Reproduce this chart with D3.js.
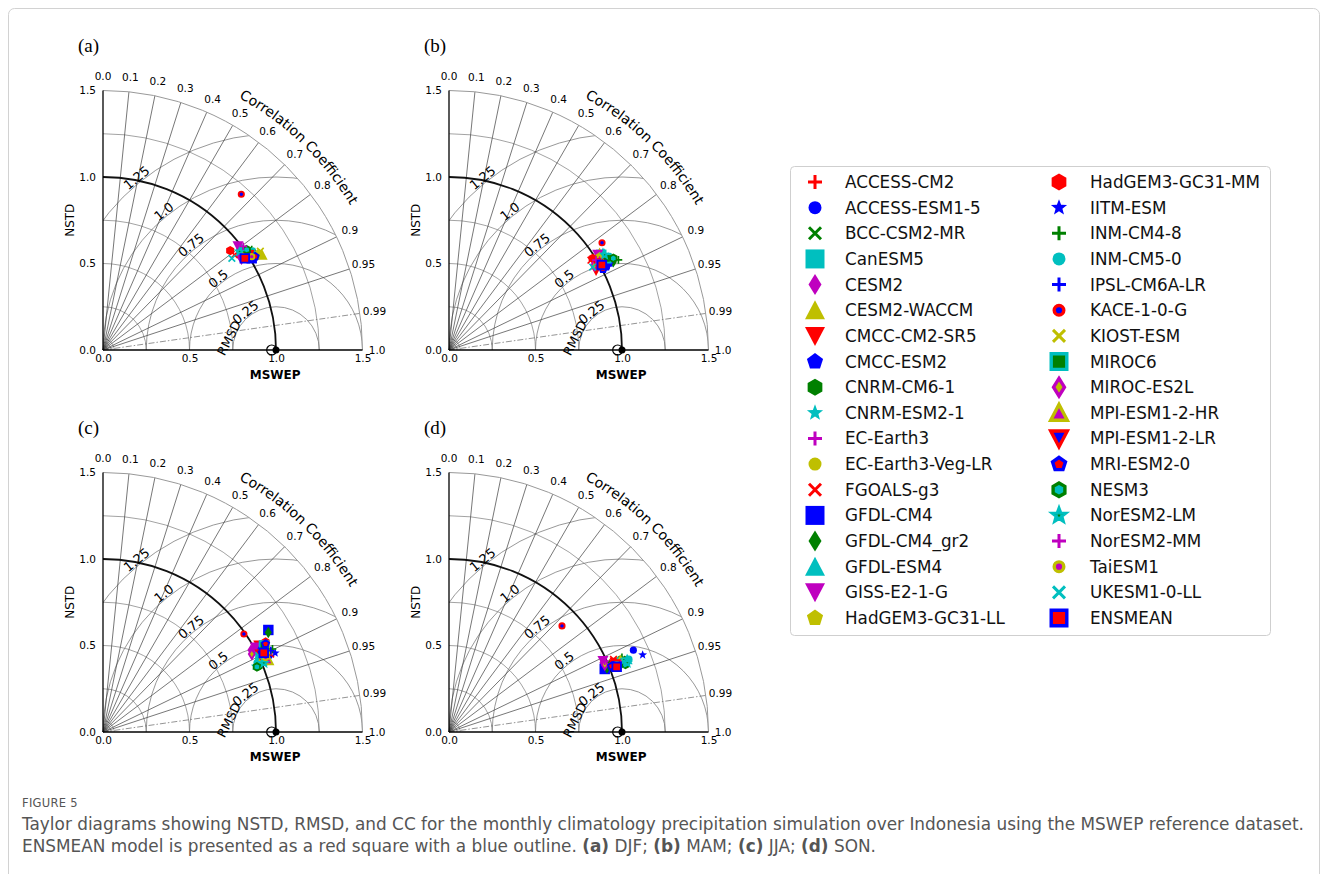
<!DOCTYPE html>
<html>
<head>
<meta charset="utf-8">
<script src="https://cdn.jsdelivr.net/npm/d3@7"></script>
<style>
  body { margin: 0; background: #fff; }
  svg text { font-family: "DejaVu Sans", sans-serif; }
</style>
</head>
<body>
<svg id="fig" width="1328" height="874"></svg>
<script>
// models, in legend order (last one is the ensemble mean)
const models = ["ACCESS-CM2","ACCESS-ESM1-5","BCC-CSM2-MR","CanESM5","CESM2","CESM2-WACCM",
  "CMCC-CM2-SR5","CMCC-ESM2","CNRM-CM6-1","CNRM-ESM2-1","EC-Earth3","EC-Earth3-Veg-LR",
  "FGOALS-g3","GFDL-CM4","GFDL-CM4_gr2","GFDL-ESM4","GISS-E2-1-G","HadGEM3-GC31-LL",
  "HadGEM3-GC31-MM","IITM-ESM","INM-CM4-8","INM-CM5-0","IPSL-CM6A-LR","KACE-1-0-G",
  "KIOST-ESM","MIROC6","MIROC-ES2L","MPI-ESM1-2-HR","MPI-ESM1-2-LR","MRI-ESM2-0",
  "NESM3","NorESM2-LM","NorESM2-MM","TaiESM1","UKESM1-0-LL","ENSMEAN"];

// normalised standard deviation and correlation, per season
const nstdDJF = [0.977,1.021,1.015,0.982,0.963,1.072,0.990,1.038,1.023,0.985,1.004,1.041,0.938,1.010,1.035,0.994,0.984,1.060,0.933,1.010,1.037,0.996,1.029,1.204,1.074,1.018,0.960,1.007,1.004,1.032,1.013,0.974,1.008,1.015,0.914,0.976];
const ccDJF   = [0.819,0.842,0.828,0.815,0.821,0.858,0.838,0.848,0.831,0.822,0.816,0.855,0.810,0.851,0.841,0.805,0.793,0.849,0.788,0.832,0.829,0.813,0.845,0.664,0.847,0.835,0.834,0.824,0.837,0.852,0.820,0.811,0.804,0.847,0.815,0.840];
const nstdMAM = [1.005,1.047,1.044,1.038,0.983,1.035,0.966,1.029,1.066,1.067,1.007,1.031,0.971,1.030,1.078,1.052,1.021,1.024,0.985,1.056,1.109,1.079,1.042,1.080,1.017,1.053,0.972,1.019,0.995,1.006,1.088,1.055,0.996,1.007,0.959,1.011];
const ccMAM   = [0.856,0.879,0.862,0.848,0.855,0.841,0.880,0.884,0.873,0.862,0.844,0.863,0.845,0.874,0.881,0.846,0.842,0.850,0.843,0.881,0.883,0.871,0.883,0.819,0.865,0.864,0.864,0.854,0.864,0.885,0.873,0.853,0.853,0.874,0.866,0.874];
const nstdJJA = [1.033,1.056,1.055,1.002,0.978,1.039,1.030,1.015,0.977,0.959,0.984,1.029,1.069,1.123,1.115,1.007,1.007,1.069,1.074,1.095,1.091,0.976,1.078,0.992,1.016,1.056,0.971,1.042,1.015,1.069,0.966,1.012,0.994,1.034,1.002,1.036];
const ccJJA   = [0.891,0.909,0.891,0.908,0.875,0.915,0.874,0.886,0.921,0.918,0.884,0.904,0.907,0.851,0.857,0.913,0.874,0.898,0.875,0.909,0.898,0.912,0.900,0.821,0.906,0.881,0.886,0.917,0.896,0.879,0.921,0.919,0.875,0.909,0.898,0.897];
const nstdSON = [1.058,1.166,1.085,1.068,0.976,1.053,1.040,1.023,1.008,1.099,0.990,1.064,1.039,0.971,0.985,1.112,0.980,1.086,1.027,1.205,1.089,1.122,1.010,0.896,1.051,1.077,0.981,1.072,1.036,1.014,1.092,1.105,0.989,1.045,1.090,1.040];
const ccSON   = [0.926,0.914,0.922,0.927,0.912,0.921,0.923,0.929,0.922,0.928,0.919,0.930,0.915,0.927,0.927,0.926,0.908,0.930,0.925,0.929,0.918,0.927,0.930,0.729,0.932,0.928,0.918,0.924,0.926,0.927,0.934,0.932,0.910,0.928,0.927,0.932];

// axis / grid values
const stdTicks = [0, 0.5, 1.0, 1.5];
const stdArcs = [0.25, 0.5, 0.75, 1.25];
const corLines = [0.1,0.2,0.3,0.4,0.5,0.6,0.7,0.8,0.9,0.95,0.99];
const corLabels = [0.0,0.1,0.2,0.3,0.4,0.5,0.6,0.7,0.8,0.9,0.95,0.99,1.0];
const rmsTicks = [0.25, 0.5, 0.75, 1.0, 1.25];

// marker styles (matplotlib-like)
const R_ = "#ff0000", B_ = "#0000ff", G_ = "#008000", C_ = "#00bfbf", M_ = "#bf00bf", Y_ = "#bfbf00";
const shapes = ["plus","circle","x","square","diamond","tri","vtri","pent","hex","star","plus","circle",
  "x","square","diamond","tri","vtri","pent","hex","star","plus","circle","plus","circle",
  "x","square","diamond","tri","vtri","pent","hex","star","plus","circle","x","square"];
const faces = [R_,B_,G_,C_,M_,Y_,R_,B_,G_,C_,M_,Y_,R_,B_,G_,C_,M_,Y_,R_,B_,G_,C_,B_,B_,
  Y_,G_,Y_,M_,B_,R_,C_,G_,M_,M_,C_,R_];
const edges = [R_,B_,G_,C_,M_,Y_,R_,B_,G_,C_,M_,Y_,R_,B_,G_,C_,M_,Y_,R_,B_,G_,C_,B_,R_,
  Y_,C_,M_,Y_,R_,B_,G_,C_,M_,Y_,C_,B_];
const halfSize = {plus:7, circle:6.5, x:6, square:9.5, diamond:10.5, tri:10, vtri:10, pent:8.5, hex:8.5, star:8.5};

function markerPath(shape, r) {
  const p = d3.path();
  const poly = pts => { pts.forEach((q, k) => k ? p.lineTo(q[0], q[1]) : p.moveTo(q[0], q[1])); p.closePath(); };
  const ngon = (n, rad, inner) => {
    const pts = [];
    const m = inner ? 2 * n : n;
    for (let k = 0; k < m; k++) {
      const a = -Math.PI / 2 + k * 2 * Math.PI / m;
      const rr = inner && k % 2 ? rad * inner : rad;
      pts.push([rr * Math.cos(a), rr * Math.sin(a)]);
    }
    return pts;
  };
  switch (shape) {
    case "plus": p.moveTo(-r, 0); p.lineTo(r, 0); p.moveTo(0, -r); p.lineTo(0, r); break;
    case "x": p.moveTo(-r, -r); p.lineTo(r, r); p.moveTo(-r, r); p.lineTo(r, -r); break;
    case "circle": p.moveTo(r, 0); p.arc(0, 0, r, 0, 2 * Math.PI); break;
    case "square": p.rect(-r, -r, 2 * r, 2 * r); break;
    case "diamond": poly([[0, -r], [0.62 * r, 0], [0, r], [-0.62 * r, 0]]); break;
    case "tri": poly([[0, -r], [r, 0.9 * r], [-r, 0.9 * r]]); break;
    case "vtri": poly([[0, r], [r, -0.9 * r], [-r, -0.9 * r]]); break;
    case "pent": poly(ngon(5, r)); break;
    case "hex": poly(ngon(6, r)); break;
    case "star": poly(ngon(5, r, 0.42)); break;
  }
  return p.toString();
}

function drawMarker(sel, i, scale) {
  const shape = shapes[i];
  const composite = faces[i] !== edges[i];
  const lined = shape === "plus" || shape === "x";
  let r = halfSize[shape] * scale;
  const sw = (composite ? 3.4 : (lined ? 3 : 0)) * scale;
  if (composite) r -= sw / 2;
  sel.append("path")
    .attr("d", markerPath(shape, r))
    .attr("fill", lined ? "none" : faces[i])
    .attr("stroke", lined ? faces[i] : (composite ? edges[i] : "none"))
    .attr("stroke-width", sw);
}

const svg = d3.select("#fig");

// outer frame
svg.append("rect").attr("x", 8.5).attr("y", 8.5).attr("width", 1311).attr("height", 900)
  .attr("rx", 6).attr("fill", "none").attr("stroke", "#d2d2d2");

const R = 259.5;
const sx = d3.scaleLinear().domain([0, 1.5]).range([0, R]);
const sy = d3.scaleLinear().domain([0, 1.5]).range([0, -R]);

const panels = [
  {label: "(a)", nstd: nstdDJF, cc: ccDJF, ox: 103, oy: 350},
  {label: "(b)", nstd: nstdMAM, cc: ccMAM, ox: 449, oy: 350},
  {label: "(c)", nstd: nstdJJA, cc: ccJJA, ox: 103, oy: 732},
  {label: "(d)", nstd: nstdSON, cc: ccSON, ox: 449, oy: 732}
];

const fmtCor = d => Math.abs(d * 10 - Math.round(d * 10)) < 1e-9 ? d.toFixed(1) : d.toFixed(2);
const deg = Math.PI / 180;

panels.forEach((p, pi) => {
  const g = svg.append("g").attr("transform", `translate(${p.ox},${p.oy})`);
  const clipId = "quarter" + pi;
  g.append("clipPath").attr("id", clipId)
    .append("path").attr("d", `M0,0L0,${-R}A${R},${R} 0 0 1 ${R},0Z`);

  // std arcs around the origin
  stdArcs.forEach(r => {
    const a = d3.path(); a.arc(0, 0, sx(r), -Math.PI / 2, 0);
    g.append("path").attr("d", a.toString()).attr("fill", "none")
      .attr("stroke", "#8c8c8c").attr("stroke-width", 0.8);
  });
  // tiny arcs at the origin
  [0.025, 0.045, 0.065].forEach(r => {
    const a = d3.path(); a.arc(0, 0, sx(r), -Math.PI / 2, 0);
    g.append("path").attr("d", a.toString()).attr("fill", "none")
      .attr("stroke", "#9a9a9a").attr("stroke-width", 0.7);
  });

  // RMSD arcs centred on the reference point
  const rg = g.append("g").attr("clip-path", `url(#${clipId})`);
  rmsTicks.forEach(r => {
    const a = d3.path(); a.arc(sx(1), 0, sx(r), Math.PI, 2 * Math.PI);
    rg.append("path").attr("d", a.toString()).attr("fill", "none")
      .attr("stroke", "#7d7d7d").attr("stroke-width", 0.8);
  });

  // correlation rays
  corLines.forEach(c => {
    const t = Math.acos(c);
    g.append("line").attr("x1", 0).attr("y1", 0)
      .attr("x2", sx(1.5 * Math.cos(t))).attr("y2", sy(1.5 * Math.sin(t)))
      .attr("stroke", c === 0.99 ? "#666" : "#3c3c3c")
      .attr("stroke-width", 0.7)
      .attr("stroke-dasharray", c === 0.99 ? "6,2,1.5,2" : null);
  });

  // outer arc and the reference std arc
  const outer = d3.path(); outer.arc(0, 0, sx(1.5), -Math.PI / 2, 0);
  g.append("path").attr("d", outer.toString()).attr("fill", "none").attr("stroke", "#999").attr("stroke-width", 1);
  const one = d3.path(); one.arc(0, 0, sx(1.0), -Math.PI / 2, 0);
  g.append("path").attr("d", one.toString()).attr("fill", "none").attr("stroke", "#111").attr("stroke-width", 1.8);

  // axes
  const xa = g.append("g").call(d3.axisBottom(sx).tickValues(stdTicks).tickSize(0).tickPadding(5).tickFormat(d3.format(".1f")));
  const ya = g.append("g").call(d3.axisLeft(sy).tickValues(stdTicks).tickSize(0).tickPadding(7).tickFormat(d3.format(".1f")));
  [xa, ya].forEach(a => {
    a.select(".domain").remove();
    a.selectAll("text").attr("font-family", "DejaVu Sans").attr("font-size", 10.5).attr("fill", "#000");
  });
  g.append("line").attr("x1", 0).attr("y1", 0).attr("x2", R).attr("y2", 0).attr("stroke", "#000").attr("stroke-width", 1.3);
  g.append("line").attr("x1", 0).attr("y1", 0).attr("x2", 0).attr("y2", -R).attr("stroke", "#000").attr("stroke-width", 1.3);

  // correlation tick labels
  corLabels.forEach(c => {
    const t = Math.acos(c);
    g.append("text").attr("x", sx(1.585 * Math.cos(t))).attr("y", sy(1.585 * Math.sin(t)))
      .attr("text-anchor", "middle").attr("dominant-baseline", "central")
      .attr("font-size", 10.5).text(fmtCor(c));
  });

  // curved title
  const tp = d3.path(); tp.arc(0, 0, sx(1.655), -77 * deg, -15 * deg);
  g.append("path").attr("id", "corPath" + pi).attr("d", tp.toString()).attr("fill", "none");
  g.append("text").attr("font-size", 14)
    .append("textPath").attr("href", "#corPath" + pi).attr("startOffset", "50%")
    .attr("text-anchor", "middle").text("Correlation Coefficient");

  // RMSD labels
  rmsTicks.forEach(r => {
    const a = 129 * deg, rr = r + 0.03;
    g.append("text")
      .attr("transform", `translate(${sx(1 + rr * Math.cos(a))},${sy(rr * Math.sin(a))}) rotate(-39)`)
      .attr("text-anchor", "middle").attr("dominant-baseline", "central")
      .attr("font-size", 13).text(r === 1 ? "1.0" : String(r));
  });
  g.append("text")
    .attr("transform", `translate(${sx(0.728)},${sy(0.07)}) rotate(-63)`)
    .attr("text-anchor", "middle").attr("dominant-baseline", "central")
    .attr("font-size", 12.5).text("RMSD");

  // reference point
  g.append("circle").attr("cx", sx(0.975)).attr("cy", 0).attr("r", 5)
    .attr("fill", "none").attr("stroke", "#000").attr("stroke-width", 1.2);
  g.append("circle").attr("cx", sx(1.0)).attr("cy", 0).attr("r", 3.5).attr("fill", "#000");

  // axis titles
  g.append("text").attr("x", sx(0.995)).attr("y", 25).attr("text-anchor", "middle")
    .attr("dominant-baseline", "central").attr("font-size", 12).attr("font-weight", "bold").text("MSWEP");
  g.append("text").attr("transform", `translate(-33,${sy(0.75)}) rotate(-90)`)
    .attr("text-anchor", "middle").attr("dominant-baseline", "central").attr("font-size", 12).text("NSTD");

  // panel label
  svg.append("text").attr("x", p.ox - 25).attr("y", p.oy - 298)
    .style("font-family", "'Liberation Serif', serif").attr("font-size", 19).text(p.label);

  // model points
  models.forEach((m, i) => {
    const t = Math.acos(p.cc[i]);
    const mg = g.append("g")
      .attr("transform", `translate(${sx(p.nstd[i] * Math.cos(t))},${sy(p.nstd[i] * Math.sin(t))})`);
    drawMarker(mg, i, 0.55);
  });
});

// legend
const leg = svg.append("g");
leg.append("rect").attr("x", 790.5).attr("y", 166.5).attr("width", 480).attr("height", 469)
  .attr("rx", 4).attr("fill", "#fff").attr("stroke", "#cfcfcf");
const rowY = d3.scaleLinear().domain([0, 17]).range([182, 618]);
models.forEach((m, i) => {
  const col = i < 18 ? 0 : 1, row = i % 18;
  const mx = col ? 1059 : 815, tx = col ? 1090 : 845;
  const mg = leg.append("g").attr("transform", `translate(${mx},${rowY(row)})`);
  drawMarker(mg, i, 1);
  leg.append("text").attr("x", tx).attr("y", rowY(row)).attr("dominant-baseline", "central")
    .attr("font-size", 16.8).attr("fill", "#111").text(m);
});

// caption
const cap = svg.append("g").style("font-family", "'Open Sans', sans-serif").attr("fill", "#555");
cap.append("text").attr("x", 22).attr("y", 807).attr("font-size", 11.5).attr("letter-spacing", 0.3).text("FIGURE 5");
const l1 = cap.append("text").attr("x", 22).attr("y", 830).attr("font-size", 15)
  .text("Taylor diagrams showing NSTD, RMSD, and CC for the monthly climatology precipitation simulation over Indonesia using the MSWEP reference dataset.");
const fs = 15 * 1283 / l1.node().getComputedTextLength();
l1.attr("font-size", fs);
const l2 = cap.append("text").attr("x", 22).attr("y", 852).attr("font-size", fs);
[["ENSMEAN model is presented as a red square with a blue outline. ", false], ["(a)", true], [" DJF; ", false],
 ["(b)", true], [" MAM; ", false], ["(c)", true], [" JJA; ", false], ["(d)", true], [" SON.", false]]
  .forEach(([t, b]) => l2.append("tspan").attr("font-weight", b ? "bold" : null).text(t));
</script>
</body>
</html>
